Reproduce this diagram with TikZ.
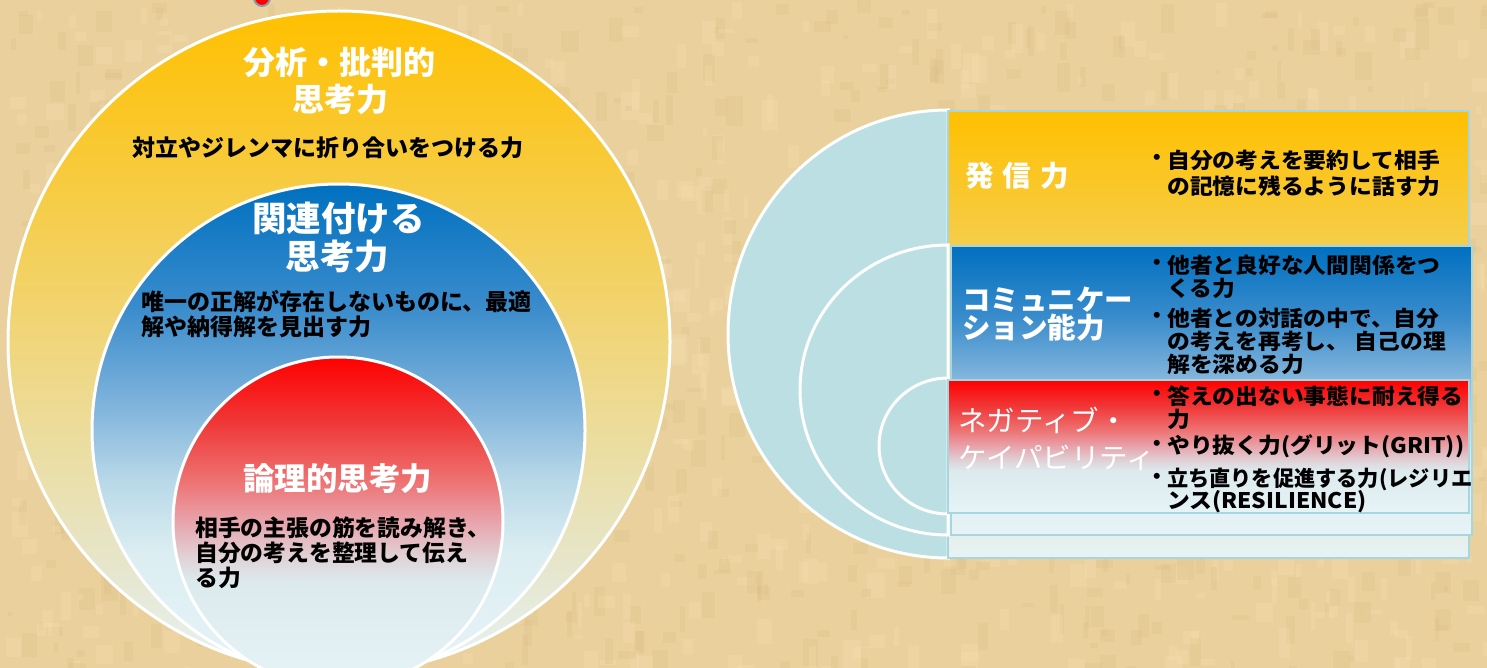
\documentclass[tikz,border=0pt]{standalone}
\usepackage{fontspec}
\newfontfamily\jp{Noto Sans CJK JP}
\definecolor{bg}{HTML}{EAD09C}
\definecolor{bglt}{HTML}{F4DFB0}
\definecolor{bgdk}{HTML}{DCC08A}
\definecolor{lt}{HTML}{E6F3F7}
\definecolor{y1}{HTML}{FFC000}
\definecolor{y2}{HTML}{F0D67C}
\definecolor{y3}{HTML}{E6E6CC}
\definecolor{b1}{HTML}{0070C0}
\definecolor{b2}{HTML}{3A8CCC}
\definecolor{b3}{HTML}{80B4DC}
\definecolor{b4}{HTML}{B8D8E8}
\definecolor{b5}{HTML}{DCEEF2}
\definecolor{r1}{HTML}{FF0000}
\definecolor{r2}{HTML}{F03838}
\definecolor{r3}{HTML}{EE7070}
\definecolor{r4}{HTML}{E8A4AC}
\definecolor{r5}{HTML}{E0D0D4}
\definecolor{r6}{HTML}{DCEAEE}
\definecolor{tealfill}{HTML}{BBDFE3}
\definecolor{boxedge}{HTML}{A8D6DE}
\definecolor{dotgray}{HTML}{8A9AA8}
\pgfdeclareverticalshading{yshade}{100bp}{color(0bp)=(lt); color(25bp)=(lt); color(33bp)=(y3); color(50bp)=(y2); color(75bp)=(y1); color(100bp)=(y1)}
\pgfdeclareverticalshading{bshade}{100bp}{color(0bp)=(lt); color(25bp)=(lt); color(37.5bp)=(b5); color(45bp)=(b4); color(52.5bp)=(b3); color(62.5bp)=(b2); color(75bp)=(b1); color(100bp)=(b1)}
\pgfdeclareverticalshading{rshade}{100bp}{color(0bp)=(lt); color(25bp)=(lt); color(41bp)=(r6); color(45bp)=(r5); color(50bp)=(r4); color(56.5bp)=(r3); color(65bp)=(r2); color(75bp)=(r1); color(100bp)=(r1)}
\tikzset{
  ring/.style={draw=white, line width=3pt},
  halfdisc/.style={fill=tealfill, draw=white, line width=3pt},
  box/.style={draw=boxedge, line width=2.5pt},
  titletext/.style={text=white, font=\jp\bfseries\fontsize{32}{38}\selectfont, inner sep=0pt},
  bodytext/.style={text=black, font=\jp\bfseries\fontsize{23}{27}\selectfont, inner sep=0pt, anchor=west},
  rtitle/.style={text=white, font=\jp\bfseries\fontsize{28.5}{33}\selectfont, inner sep=0pt, anchor=west},
  rbody/.style={text=black, font=\jp\bfseries\fontsize{21.5}{25}\selectfont, inner sep=0pt, anchor=west, xscale=1.06},
  bullet/.style={text=black, font=\jp\bfseries\fontsize{21.5}{25}\selectfont, inner sep=0pt},
}
\begin{document}
\begin{tikzpicture}[x=1pt,y=-1pt]
\useasboundingbox (0,0) rectangle (1487,668);
\clip (0,0) rectangle (1487,668);
% background
\fill[bg] (0,0) rectangle (1487,668);
\pgfmathsetseed{12}
\foreach \i in {1,...,1400}{
  \pgfmathsetmacro{\ax}{rnd*1487}
  \pgfmathsetmacro{\ay}{rnd*668}
  \pgfmathsetmacro{\aw}{4+rnd*14}
  \pgfmathsetmacro{\ah}{4+rnd*26}
  \pgfmathsetmacro{\ac}{rnd}
  \ifdim\ac pt<0.5pt \def\cc{bglt}\else\def\cc{bgdk}\fi
  \fill[\cc, opacity=0.3] (\ax,\ay) rectangle ++(\aw,\ah);
}
% red dot at top
\draw[fill=r1, draw=dotgray, line width=2pt] (262,-2) circle[radius=8];

% ===== left: nested circles =====
\path[ring, shading=yshade] (339,342) circle[radius=331];
\path[ring, shading=bshade] (338.5,430.5) circle[radius=246.5];
\path[ring, shading=rshade] (338,522) circle[radius=165];

\node[titletext] (t1a) at (339,62) {分析・批判的};
\node[titletext] (t1b) at (340,99) {思考力};
\node[bodytext] (d1) at (132,148) {対立やジレンマに折り合いをつける力};

\node[titletext, font=\jp\bfseries\fontsize{34.5}{40}\selectfont] (t2a) at (338.5,218) {関連付ける};
\node[titletext, font=\jp\bfseries\fontsize{34.5}{40}\selectfont] (t2b) at (337.5,256) {思考力};
\node[bodytext] (d2a) at (141,302) {唯一の正解が存在しないものに、最適};
\node[bodytext] (d2b) at (141,327) {解や納得解を見出す力};

\node[titletext, font=\jp\bfseries\fontsize{31.5}{37}\selectfont] (t3) at (337.5,479) {論理的思考力};
\node[bodytext, font=\jp\bfseries\fontsize{22.8}{27}\selectfont] (d3a) at (195,528) {相手の主張の筋を読み解き、};
\node[bodytext, font=\jp\bfseries\fontsize{22.8}{27}\selectfont] (d3b) at (195,553) {自分の考えを整理して伝え};
\node[bodytext, font=\jp\bfseries\fontsize{22.8}{27}\selectfont] (d3c) at (195,578) {る力};

% ===== right: nested target =====
\path[halfdisc] (948,110) arc[start angle=270, end angle=90, x radius=220, y radius=224] -- cycle;
\path[box, shading=yshade] (948,111) rectangle (1469,558);
\path[halfdisc] (948,245) arc[start angle=270, end angle=90, x radius=148, y radius=145] -- cycle;
\path[box, shading=bshade] (951,246) rectangle (1472,535);
\path[halfdisc] (948,378) arc[start angle=270, end angle=90, x radius=69, y radius=68] -- cycle;
\path[box, shading=rshade] (948,380) rectangle (1469,513);

% texts of the outer box
\node[rtitle] (h1) at (965,176) {発\hspace{9pt}信\hspace{9pt}力};
\node[bullet] (k1) at (1157,160) {・};
\node[rbody] (e1a) at (1167,160) {自分の考えを要約して相手};
\node[rbody] (e1b) at (1167,186) {の記憶に残るように話す力};

% texts of the middle box
\node[rtitle] (h2a) at (962,300) {コミュニケー};
\node[rtitle] (h2b) at (962,328) {ション能力};
\node[bullet] (k2) at (1157,265) {・};
\node[rbody] (e2a) at (1167,265) {他者と良好な人間関係をつ};
\node[rbody] (e2b) at (1167,288) {くる力};
\node[bullet] (k3) at (1157,318) {・};
\node[rbody] (e3a) at (1167,318) {他者との対話の中で、自分};
\node[rbody] (e3b) at (1167,341) {の考えを再考し、 自己の理};
\node[rbody] (e3c) at (1167,364) {解を深める力};

% texts of the inner box
\node[rtitle, font=\jp\fontsize{28.5}{33}\selectfont] (h3a) at (958,420) {ネガティブ・};
\node[rtitle, font=\jp\fontsize{28.5}{33}\selectfont] (h3b) at (958,458) {ケイパビリティ};
\node[bullet] (k4) at (1157,396) {・};
\node[rbody] (e4a) at (1167,396) {答えの出ない事態に耐え得る};
\node[rbody] (e4b) at (1167,419) {力};
\node[bullet] (k5) at (1157,446) {・};
\node[rbody] (e5) at (1167,446) {やり抜く力(グリット(GRIT))};
\node[bullet] (k6) at (1157,479) {・};
\node[rbody, xscale=0.93] (e6a) at (1167,479) {立ち直りを促進する力(レジリエ};
\node[rbody] (e6b) at (1167,502) {ンス(RESILIENCE)};
\end{tikzpicture}
\end{document}
